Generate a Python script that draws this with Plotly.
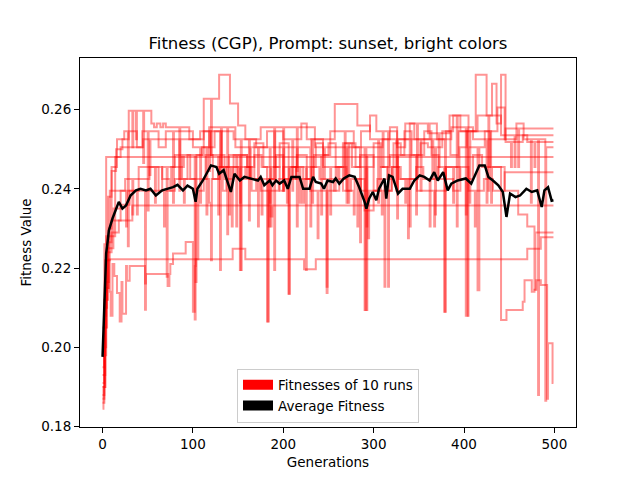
import plotly.graph_objects as go

# change points of each run: (generation, fitness), held as steps
run1_gen = [0, 2, 4, 499]
run1_fit = [0.205, 0.226, 0.248, 0.248]

run2_gen = [0, 2, 5, 10, 18, 33, 186, 188, 499]
run2_fit = [0.199, 0.212, 0.224, 0.229, 0.232, 0.2358, 0.2330, 0.2358, 0.2358]

run3_gen = [0, 2, 4, 7, 144, 158, 223, 236, 470, 485, 499]
run3_fit = [0.187, 0.205, 0.2165, 0.2222, 0.2249, 0.2222, 0.2197, 0.2222, 0.2249, 0.2278, 0.2278]

run4_gen = [0, 1, 3, 5, 6, 8, 9, 11, 13, 16, 19, 21, 22, 26, 27, 30, 47, 48, 72, 74, 75, 78, 92,
            100, 102, 103, 106, 112, 118, 120, 121, 128, 133, 137, 143, 144, 150, 158, 165, 170,
            176, 177, 183, 184, 190, 196, 200, 206, 207, 214, 221, 223, 231, 240, 248, 249, 256,
            262, 270, 278, 279, 286, 294, 295, 304, 312, 313, 320, 328, 335, 336, 347, 355, 362,
            363, 371, 378, 379, 388, 396, 405, 412, 413, 422, 432, 445, 499]
run4_fit = [0.1845, 0.190, 0.205, 0.215, 0.222, 0.214, 0.208, 0.221, 0.218, 0.2137, 0.2065, 0.2165,
            0.2085, 0.2205, 0.2168, 0.2205, 0.2161, 0.2185, 0.2155, 0.2185, 0.221, 0.2237, 0.2266,
            0.209, 0.2205, 0.2222, 0.2395, 0.2425, 0.2365, 0.222, 0.2425, 0.2455, 0.2395, 0.2455,
            0.2305, 0.2455, 0.2425, 0.2455, 0.2395, 0.2425, 0.2335, 0.2425, 0.2065, 0.2425, 0.2455,
            0.2395, 0.2455, 0.2135, 0.2455, 0.2425, 0.2365, 0.2425, 0.2455, 0.2425, 0.2137, 0.2425,
            0.2395, 0.2455, 0.2395, 0.2335, 0.2425, 0.2395, 0.2275, 0.2395, 0.2425, 0.2153, 0.2395,
            0.2455, 0.2425, 0.2365, 0.2425, 0.2455, 0.2425, 0.2305, 0.2425, 0.2455, 0.209, 0.2425,
            0.2395, 0.2455, 0.2395, 0.2305, 0.2395, 0.2425, 0.2395, 0.2442, 0.2442]

run5_gen = [0, 3, 6, 10, 15, 22, 29, 33, 34, 37, 38, 45, 46, 54, 57, 60, 64, 67, 70, 85, 86, 96,
            112, 120, 121, 129, 141, 150, 158, 162, 163, 175, 190, 191, 200, 201, 215, 216, 235,
            245, 246, 270, 271, 290, 292, 310, 325, 326, 340, 341, 365, 366, 386, 402, 404, 410,
            425, 426, 446, 460, 461, 499]
run5_fit = [0.193, 0.222, 0.238, 0.2445, 0.250, 0.2525, 0.2597, 0.2505, 0.2597, 0.2525, 0.2597,
            0.2465, 0.2597, 0.2565, 0.2555, 0.2565, 0.2555, 0.2565, 0.2555, 0.2425, 0.2555, 0.2525,
            0.2627, 0.2485, 0.2627, 0.2688, 0.2615, 0.256, 0.2525, 0.232, 0.2525, 0.2555, 0.2195,
            0.2555, 0.2395, 0.2555, 0.2305, 0.2555, 0.2505, 0.2425, 0.2505, 0.2365, 0.2505, 0.2094,
            0.2505, 0.2525, 0.2395, 0.2525, 0.2305, 0.2525, 0.2425, 0.2525, 0.2555, 0.208, 0.2555,
            0.2525, 0.2365, 0.2525, 0.2552, 0.2455, 0.2552, 0.2552]

run6_gen = [0, 2, 4, 8, 14, 20, 45, 52, 53, 80, 85, 86, 108, 118, 119, 130, 131, 145, 153, 154,
            170, 185, 186, 200, 201, 215, 216, 230, 231, 240, 257, 282, 296, 305, 306, 318, 326,
            327, 340, 348, 349, 360, 372, 373, 384, 392, 393, 405, 415, 427, 428, 441, 456, 457,
            499]
run6_fit = [0.191, 0.208, 0.228, 0.2395, 0.248, 0.2505, 0.2525, 0.2435, 0.2525, 0.2525, 0.2395,
            0.2525, 0.2545, 0.2445, 0.2545, 0.2195, 0.2545, 0.2525, 0.2195, 0.2525, 0.2505, 0.2365,
            0.2505, 0.2395, 0.2505, 0.2445, 0.2505, 0.2305, 0.2525, 0.2525, 0.2614, 0.256, 0.2525,
            0.2365, 0.2525, 0.2555, 0.2325, 0.2525, 0.2565, 0.2425, 0.2565, 0.254, 0.2455, 0.254,
            0.2585, 0.2305, 0.2585, 0.2545, 0.2585, 0.2395, 0.2585, 0.2535, 0.2455, 0.2535, 0.2535]

run7_gen = [0, 3, 5, 12, 20, 26, 27, 40, 52, 58, 59, 66, 75, 76, 90, 97, 104, 110, 115, 116, 124,
            132, 140, 148, 149, 160, 168, 176, 182, 183, 192, 200, 210, 218, 219, 225, 226, 236,
            244, 252, 253, 260, 268, 276, 285, 292, 293, 300, 308, 315, 322, 330, 347, 348, 356,
            364, 372, 380, 388, 389, 395, 403, 413, 425, 431, 436, 441, 446, 452, 453, 465, 470,
            478, 479, 499]
run7_fit = [0.19, 0.21, 0.225, 0.235, 0.2395, 0.2305, 0.2395, 0.2425, 0.2455, 0.2365, 0.2455,
            0.2425, 0.2395, 0.2455, 0.2485, 0.2425, 0.2485, 0.2505, 0.2335, 0.2505, 0.2545, 0.2455,
            0.2485, 0.2305, 0.2485, 0.2425, 0.2485, 0.2455, 0.2065, 0.2425, 0.2485, 0.2425, 0.2455,
            0.2365, 0.2455, 0.2195, 0.2455, 0.2515, 0.2455, 0.2335, 0.2455, 0.2425, 0.2515, 0.2455,
            0.2485, 0.2305, 0.2485, 0.2395, 0.2455, 0.2425, 0.2515, 0.2485, 0.2335, 0.2485, 0.2545,
            0.2485, 0.2425, 0.2455, 0.2365, 0.2455, 0.2505, 0.2545, 0.2688, 0.2585, 0.2665, 0.2565,
            0.2688, 0.2518, 0.2455, 0.2518, 0.2535, 0.2518, 0.2455, 0.2518, 0.2518]

run8_gen = [0, 2, 4, 6, 10, 14, 25, 33, 34, 40, 55, 62, 66, 71, 72, 80, 88, 94, 102, 103, 112,
            120, 128, 129, 135, 145, 152, 153, 160, 168, 178, 186, 187, 196, 206, 207, 215, 226,
            234, 242, 243, 250, 258, 266, 272, 273, 280, 291, 293, 300, 308, 318, 326, 327, 334,
            342, 352, 360, 368, 369, 376, 385, 394, 404, 405, 415, 417, 423, 430, 441, 447, 465,
            467, 475, 478, 480, 485, 492, 493, 498, 499]
run8_fit = [0.186, 0.198, 0.212, 0.2265, 0.232, 0.2395, 0.2425, 0.2335, 0.2425, 0.2455, 0.2455,
            0.2395, 0.2455, 0.2178, 0.2455, 0.2485, 0.2425, 0.2485, 0.207, 0.2485, 0.2545, 0.2485,
            0.2335, 0.2485, 0.2425, 0.2485, 0.2365, 0.2485, 0.2455, 0.2515, 0.2455, 0.2305, 0.2455,
            0.2515, 0.2135, 0.2455, 0.2485, 0.2425, 0.2485, 0.2335, 0.2485, 0.2515, 0.2455, 0.2515,
            0.2365, 0.2515, 0.2455, 0.2094, 0.2455, 0.2515, 0.2455, 0.2485, 0.2395, 0.2485, 0.2545,
            0.2485, 0.2515, 0.2505, 0.2335, 0.2505, 0.2545, 0.2485, 0.2545, 0.208, 0.2505, 0.2144,
            0.2505, 0.2545, 0.2455, 0.2069, 0.2094, 0.2115, 0.2169, 0.214, 0.2145, 0.2169, 0.2157,
            0.187, 0.201, 0.191, 0.191]

run9_gen = [0, 2, 4, 7, 10, 16, 24, 28, 29, 38, 44, 50, 51, 62, 70, 78, 79, 90, 100, 108, 109,
            118, 131, 132, 138, 139, 147, 163, 164, 172, 173, 182, 190, 191, 200, 210, 211, 220,
            226, 232, 233, 244, 252, 268, 269, 278, 285, 286, 296, 303, 310, 311, 316, 317, 326,
            335, 345, 352, 353, 362, 370, 379, 380, 388, 396, 406, 407, 420, 428, 429, 437, 445,
            458, 466, 474, 475, 482, 483, 490, 491, 499]
run9_fit = [0.188, 0.2, 0.215, 0.23, 0.2455, 0.2525, 0.2545, 0.2255, 0.2545, 0.2505, 0.2545,
            0.2345, 0.2545, 0.2505, 0.2545, 0.2365, 0.2545, 0.2545, 0.2505, 0.2365, 0.2505, 0.2555,
            0.2455, 0.2555, 0.2285, 0.2555, 0.2505, 0.2425, 0.2505, 0.2305, 0.2505, 0.2545, 0.2455,
            0.2545, 0.2525, 0.2395, 0.2525, 0.2565, 0.2525, 0.2365, 0.2525, 0.2485, 0.2545, 0.2425,
            0.2545, 0.2505, 0.2265, 0.2545, 0.2585, 0.2545, 0.2455, 0.2545, 0.2153, 0.2545, 0.2505,
            0.2565, 0.2525, 0.2395, 0.2525, 0.2565, 0.2525, 0.209, 0.2545, 0.2585, 0.2545, 0.2365,
            0.2545, 0.2545, 0.2455, 0.2545, 0.2605, 0.2525, 0.2565, 0.2525, 0.2365, 0.2525, 0.188,
            0.2525, 0.1865, 0.2505, 0.2505]

run10_gen = [0, 2, 4, 8, 14, 20, 30, 38, 39, 47, 48, 60, 68, 69, 80, 90, 91, 103, 104, 114, 122,
             130, 140, 141, 152, 153, 163, 175, 184, 185, 195, 204, 205, 214, 222, 230, 238, 239,
             248, 249, 258, 266, 275, 282, 283, 290, 300, 309, 310, 320, 330, 338, 339, 348, 367,
             368, 380, 395, 402, 403, 410, 420, 430, 431, 445, 460, 470, 478, 479, 499]
run10_fit = [0.195, 0.21, 0.222, 0.228, 0.232, 0.236, 0.2395, 0.2335, 0.2395, 0.2095, 0.2395,
             0.2395, 0.2305, 0.2395, 0.2425, 0.2365, 0.2425, 0.2165, 0.2425, 0.2485, 0.2425,
             0.2455, 0.2335, 0.2455, 0.2195, 0.2455, 0.2425, 0.2395, 0.2305, 0.2395, 0.2425,
             0.2365, 0.2425, 0.2455, 0.2425, 0.2395, 0.2275, 0.2395, 0.2153, 0.2395, 0.2455,
             0.2395, 0.2425, 0.2305, 0.2425, 0.2345, 0.2395, 0.2335, 0.2395, 0.2455, 0.2425,
             0.2275, 0.2425, 0.2395, 0.2305, 0.2395, 0.2455, 0.2425, 0.2335, 0.2425, 0.2485,
             0.2455, 0.2365, 0.2455, 0.2395, 0.2335, 0.2305, 0.2145, 0.229, 0.229]

# average fitness
avg_gen = [0, 2, 4, 6, 7, 11, 18, 22, 26, 31, 37, 42, 48, 53, 59, 66, 72, 78, 83, 89, 94, 100, 103,
           105, 111, 116, 120, 126, 129, 134, 142, 146, 152, 157, 164, 172, 175, 179, 185, 188,
           192, 196, 201, 205, 209, 218, 222, 229, 233, 236, 242, 245, 249, 255, 258, 262, 267,
           273, 279, 284, 290, 292, 295, 299, 303, 306, 312, 314, 317, 321, 327, 332, 340, 345,
           351, 356, 362, 367, 371, 377, 382, 386, 393, 402, 408, 412, 417, 423, 427, 432, 438,
           443, 447, 451, 457, 462, 469, 475, 481, 486, 489, 493, 497, 499]
avg_fit = [0.1976, 0.2119, 0.2237, 0.2274, 0.2295, 0.2325, 0.2367, 0.235, 0.2358, 0.2383, 0.2396,
           0.240, 0.2396, 0.240, 0.2383, 0.2396, 0.240, 0.2404, 0.241, 0.2396, 0.2408, 0.240,
           0.2367, 0.240, 0.2421, 0.2442, 0.2459, 0.2455, 0.2438, 0.2447, 0.2392, 0.2438, 0.2421,
           0.243, 0.2425, 0.2421, 0.243, 0.2409, 0.2421, 0.2409, 0.2421, 0.2413, 0.2421, 0.240,
           0.243, 0.243, 0.240, 0.240, 0.243, 0.2417, 0.2413, 0.240, 0.2421, 0.2417, 0.2426,
           0.2413, 0.2426, 0.2434, 0.243, 0.2404, 0.2367, 0.235, 0.2375, 0.2392, 0.2371, 0.240,
           0.2426, 0.2375, 0.2434, 0.243, 0.2388, 0.240, 0.240, 0.2421, 0.2434, 0.243, 0.2421,
           0.2442, 0.2421, 0.2442, 0.2396, 0.2413, 0.2421, 0.2426, 0.2413, 0.2434, 0.2459, 0.2459,
           0.243, 0.2421, 0.2409, 0.2392, 0.2329, 0.2388, 0.2379, 0.2383, 0.240, 0.2392, 0.2396,
           0.2354, 0.2396, 0.2404, 0.237, 0.2371]

run_gens = [run1_gen, run2_gen, run3_gen, run4_gen, run5_gen,
            run6_gen, run7_gen, run8_gen, run9_gen, run10_gen]
run_fits = [run1_fit, run2_fit, run3_fit, run4_fit, run5_fit,
            run6_fit, run7_fit, run8_fit, run9_fit, run10_fit]

fig = go.Figure()
for g, f in zip(run_gens, run_fits):
    fig.add_trace(go.Scatter(x=g, y=f, mode="lines", line=dict(color="rgba(255,0,0,0.42)", width=2, shape="hv"),
                             showlegend=False, hoverinfo="skip"))
fig.add_trace(go.Scatter(x=avg_gen, y=avg_fit, mode="lines", line=dict(color="black", width=2.5),
                         showlegend=False))

# legend patches
fig.add_trace(go.Scatter(x=[None], y=[None], mode="lines", line=dict(color="red", width=10),
                         name="Fitnesses of 10 runs"))
fig.add_trace(go.Scatter(x=[None], y=[None], mode="lines", line=dict(color="black", width=10),
                         name="Average Fitness"))

axis_style = dict(showline=True, linecolor="black", linewidth=1, mirror=True, ticks="outside",
                  ticklen=5, tickcolor="black", showgrid=False, zeroline=False,
                  tickfont=dict(size=13.5, color="black"))
fig.update_xaxes(range=[-24.95, 523.95], dtick=100, tick0=0,
                 title=dict(text="Generations", font=dict(size=13.5, color="black"), standoff=6),
                 **axis_style)
fig.update_yaxes(range=[0.1799, 0.2730], dtick=0.02, tick0=0.18, tickformat=".2f",
                 title=dict(text="Fitness Value", font=dict(size=13.5, color="black"), standoff=6),
                 **axis_style)

# page body adds an 8px margin, so the figure is 8px smaller and margins shifted
fig.update_layout(
    width=632, height=472,
    margin=dict(l=72, r=64, t=50, b=53),
    paper_bgcolor="white", plot_bgcolor="white",
    font=dict(family="DejaVu Sans", color="black"),
    title=dict(text="Fitness (CGP), Prompt: sunset, bright colors", font=dict(size=16.5, color="black"),
               x=0.5, xref="paper", xanchor="center", y=0.926, yref="container", yanchor="middle"),
    legend=dict(x=0.5, xanchor="center", y=0.012, yanchor="bottom", bgcolor="rgba(255,255,255,0.8)",
                bordercolor="#cccccc", borderwidth=1, font=dict(size=13.5, color="black"),
                itemwidth=30, tracegroupgap=2),
)

fig.write_html("out.html")
